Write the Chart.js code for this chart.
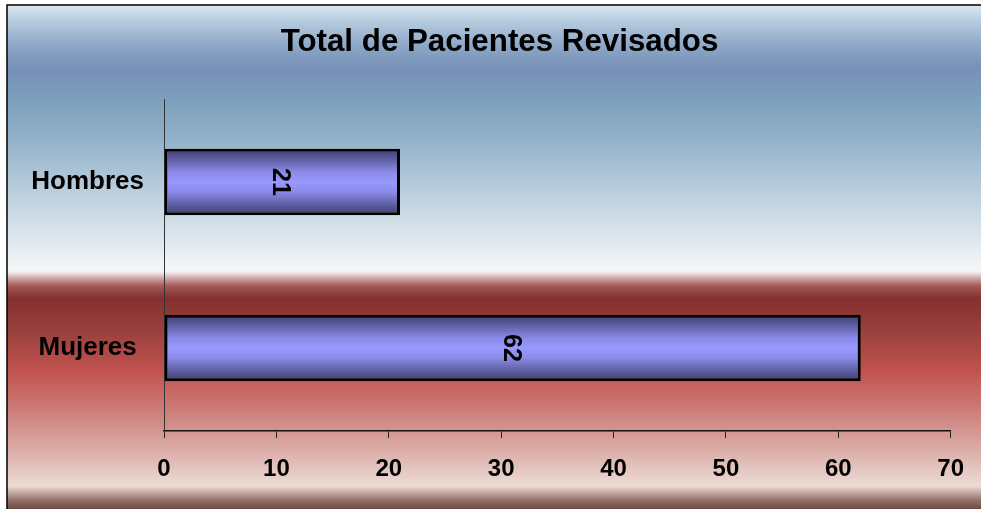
<!DOCTYPE html>
<html>
<head>
<meta charset="utf-8">
<script src="https://cdn.jsdelivr.net/npm/chart.js@4/dist/chart.umd.min.js"></script>
<style>
  html, body { margin: 0; padding: 0; background: #ffffff; }
  #wrap { width: 981px; height: 509px; }
</style>
</head>
<body>
<div id="wrap"><canvas id="c" width="981" height="509"></canvas></div>
<script>
const chartTitle = 'Total de Pacientes Revisados';
const categories = ['Hombres', 'Mujeres'];
const patients = [21, 62];
const xTicks = [0, 10, 20, 30, 40, 50, 60, 70];

const FONT = "'Liberation Sans', Arial, sans-serif";

const bgPlugin = {
  id: 'bg',
  beforeDraw(chart) {
    const ctx = chart.ctx;
    const W = chart.width, H = chart.height;
    ctx.save();
    ctx.fillStyle = '#ffffff';
    ctx.fillRect(0, 0, W, H);
    const stops = [
      [6, '#d9e6ef'], [20, '#b7cde0'], [45, '#8ea8c7'], [68, '#7690b8'],
      [95, '#7b9dbb'], [140, '#93b2c9'], [190, '#b9cddc'], [235, '#dbe5ed'],
      [268, '#f3f6f8'], [272, '#f2f0f2'], [277, '#d8b4b4'], [286, '#a45a58'],
      [298, '#84302e'], [330, '#98403c'], [370, '#c0524e'], [410, '#cd7c78'],
      [445, '#d9a6a1'], [475, '#e6cdc7'], [486, '#ecdcd6'], [492, '#c8afa6'],
      [500, '#94726a'], [509, '#6e4a42']
    ];
    const g = ctx.createLinearGradient(0, 0, 0, H);
    stops.forEach(([y, c]) => g.addColorStop(Math.min(1, y / H), c));
    ctx.fillStyle = g;
    ctx.fillRect(7, 5, W - 7, H - 5);
    ctx.strokeStyle = '#000000';
    ctx.lineWidth = 1.5;
    ctx.beginPath();
    ctx.moveTo(7, H);
    ctx.lineTo(7, 5);
    ctx.lineTo(W, 5);
    ctx.stroke();
    // title
    ctx.fillStyle = '#000000';
    ctx.font = 'bold 31.3px ' + FONT;
    ctx.textAlign = 'center';
    ctx.textBaseline = 'middle';
    ctx.fillText(chartTitle, 499.5, 42);
    ctx.restore();
  }
};

const labelPlugin = {
  id: 'barLabels',
  afterDatasetsDraw(chart) {
    const ctx = chart.ctx;
    const meta = chart.getDatasetMeta(0);
    ctx.save();
    ctx.fillStyle = '#000000';
    ctx.font = 'bold 25px ' + FONT;
    ctx.textAlign = 'center';
    ctx.textBaseline = 'middle';
    meta.data.forEach((bar, i) => {
      const cx = (bar.x + bar.base) / 2;
      ctx.save();
      ctx.translate(cx, bar.y);
      ctx.rotate(Math.PI / 2);
      ctx.fillText(String(patients[i]), 0, 2);
      ctx.restore();
    });
    ctx.restore();
  }
};

function barFill(context) {
  const chart = context.chart;
  const area = chart.chartArea;
  if (!area) return '#9999ff';
  const yScale = chart.scales.y;
  const cy = yScale.getPixelForValue(context.dataIndex);
  const band = (area.bottom - area.top) / categories.length;
  const h = band * 0.4;
  const g = chart.ctx.createLinearGradient(0, cy - h / 2, 0, cy + h / 2);
  g.addColorStop(0, '#3e3e6c');
  g.addColorStop(0.15, '#5c5ca0');
  g.addColorStop(0.35, '#8a8ae8');
  g.addColorStop(0.5, '#9999ff');
  g.addColorStop(0.65, '#8a8ae8');
  g.addColorStop(0.85, '#5c5ca0');
  g.addColorStop(1, '#3e3e6c');
  return g;
}

new Chart(document.getElementById('c'), {
  type: 'bar',
  data: {
    labels: categories,
    datasets: [{
      data: patients,
      backgroundColor: barFill,
      borderColor: '#000000',
      borderWidth: 3,
      borderSkipped: false,
      barPercentage: 0.4,
      categoryPercentage: 1.0
    }]
  },
  options: {
    indexAxis: 'y',
    responsive: false,
    animation: false,
    devicePixelRatio: 1,
    layout: { padding: { top: 99, right: 30, left: 0, bottom: 0 } },
    plugins: {
      legend: { display: false },
      title: { display: false },
      tooltip: { enabled: false }
    },
    scales: {
      x: {
        type: 'linear',
        min: xTicks[0],
        max: xTicks[xTicks.length - 1],
        afterBuildTicks(scale) { scale.ticks = xTicks.map(v => ({ value: v })); },
        afterFit(scale) { scale.height = 78; },
        grid: {
          display: true,
          drawOnChartArea: false,
          drawTicks: true,
          tickLength: 7,
          color: '#222222',
          lineWidth: 1
        },
        border: { display: true, color: '#111111', width: 1.5 },
        ticks: {
          color: '#000000',
          padding: 17,
          font: { family: FONT, size: 24, weight: 'bold' }
        }
      },
      y: {
        type: 'category',
        afterFit(scale) { scale.width = 164; },
        grid: { display: false, drawTicks: false, tickLength: 0 },
        border: { display: true, color: '#333333', width: 1 },
        ticks: {
          color: '#000000',
          padding: 20,
          crossAlign: 'center',
          font: { family: FONT, size: 26, weight: 'bold' }
        }
      }
    }
  },
  plugins: [bgPlugin, labelPlugin]
});
</script>
</body>
</html>
